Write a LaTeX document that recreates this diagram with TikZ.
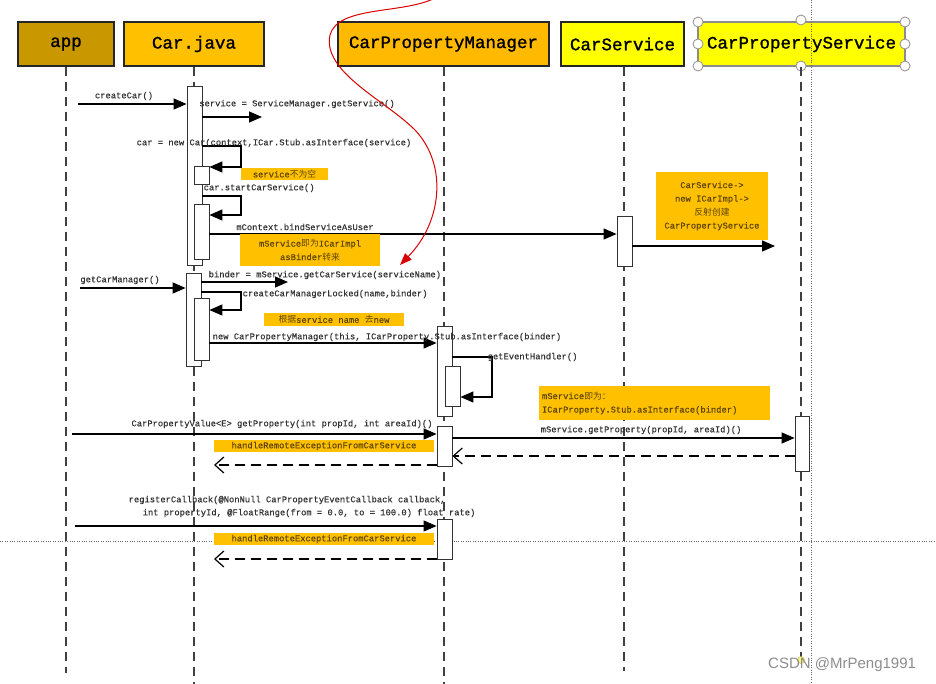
\documentclass[tikz,border=0pt]{standalone}
\usepackage{fontspec}
\usepackage{tikz}
\usetikzlibrary{arrows.meta}
\newfontfamily\monofont[FakeBold=0.4]{Liberation Mono}
\newfontfamily\headfont[FakeBold=1.2]{Liberation Mono}
\newfontfamily\cjk{Noto Sans CJK SC}
\newfontfamily\wmfont{Liberation Sans}
\newcommand\zh[1]{{\cjk #1}}
\definecolor{appgold}{RGB}{201,151,0}
\definecolor{orangebox}{RGB}{255,192,0}
\definecolor{cpmorange}{RGB}{255,186,0}
\definecolor{yellowbox}{RGB}{255,255,0}
\definecolor{notetext}{RGB}{95,70,0}

\begin{document}
\begin{tikzpicture}[x=1pt, y=-1pt]
	\tikzstyle{head}=[draw=black!85, line width=1.1pt, minimum height=44pt, inner sep=0, font=\headfont\fontsize{17.5}{20}\selectfont]
	\tikzstyle{bar}=[draw=black!80, thick, fill=white, minimum width=15pt, inner sep=0, anchor=north]
	\tikzstyle{life}=[line width=1.5pt, black!75, dash pattern=on 9pt off 6pt]
	\tikzstyle{connect}=[line width=1.2pt, -{Triangle[length=13pt,width=11pt]}]
	\tikzstyle{back}=[line width=1.2pt, dash pattern=on 10pt off 6pt, -{Straight Barb[length=9pt,width=16pt]}]
	\tikzstyle{txt}=[inner sep=0.5pt, text=black!80, font=\monofont\fontsize{8.8}{13}\selectfont]
	\tikzstyle{note}=[fill=orangebox, inner sep=1pt, text=notetext, align=center, font=\monofont\fontsize{8.8}{13.5}\selectfont]

	\useasboundingbox (0,0) rectangle (936,684);

	\node[head, fill=appgold, minimum width=96pt] (app) at (66,44) {app};
	\node[head, fill=orangebox, minimum width=140pt] (carjava) at (194,44) {Car.java};
	\node[head, fill=cpmorange, minimum width=211pt] (cpm) at (443.5,44) {CarPropertyManager};
	\node[head, fill=yellowbox, minimum width=123pt] (carsvc) at (622.5,44) {CarService};
	\node[head, fill=yellowbox, draw=black!45, minimum width=207pt] (cpsvc) at (801.5,44) {CarPropertyService};

	% selection handles
	\foreach \hx/\hy in {698/22, 801/20, 905/22, 698/44, 905/44, 698/66, 801/66, 905/66}
		\draw[black!40, fill=white, line width=0.9pt] (\hx,\hy) circle (5);

	\draw[life] (app.south) -- ++(0,606);
	\draw[life] (carjava.south) -- ++(0,620);
	\draw[life] (cpm.south -| 444,0) -- ++(0,620);
	\draw[life] (carsvc.south -| 624,0) -- ++(0,604);
	\draw[life] (cpsvc.south -| 801,0) -- ++(0,594);
	\node[circle, draw=olive!60, fill=yellow!50, inner sep=0, minimum size=7pt] (cpsvc-end) at (801,660) {};

	\draw[dotted, black!60, thin] (811,0) -- (811,684);
	\draw[dotted, black!60, thin] (0,541) -- (936,541);

	% activations
	\node[bar, minimum height=179pt] (car1) at (194.5,86) {};
	\node[bar, minimum height=18pt] (car2) at (201.5,166) {};
	\node[bar, minimum height=55pt] (car3) at (201.5,204) {};
	\node[bar, minimum height=50pt] (cs1) at (624.5,216) {};
	\node[bar, minimum height=93pt] (car4) at (193.5,273) {};
	\node[bar, minimum height=62pt] (car5) at (201.5,298) {};
	\node[bar, minimum height=90pt] (cpm1) at (444.5,326) {};
	\node[bar, minimum height=40pt] (cpm2) at (452.5,366) {};
	\node[bar, minimum height=40pt] (cpm3) at (444.5,426) {};
	\node[bar, minimum width=14pt, minimum height=55pt] (cps1) at (802,416) {};
	\node[bar, minimum height=40pt] (cpm4) at (444.5,519) {};

	% createCar
	\coordinate (s1) at (78,104);
	\draw[connect] (s1) -- (car1.west |- s1);
	\node[txt] (m1) at (124,96) {createCar()};
	\coordinate (e2) at (262,117);
	\draw[connect] (car1.east |- e2) -- (e2);
	\node[txt] (m2) at (297,104) {service = ServiceManager.getService()};
	\draw[connect] (car1.east |- 0,146) -| (241,167) -- (car2.east |- 0,167);
	\node[txt] (m3) at (274,143) {car = new Car(context,ICar.Stub.asInterface(service)};
	\node[note, minimum width=87pt, minimum height=12pt] (n1) at (284.5,174) {service\zh{不为空}};
	\draw[connect] (car1.east |- 0,196) -| (241,215) -- (car3.east |- 0,215);
	\node[txt, anchor=west] (m4) at (203,188) {car.startCarService()};
	\draw[connect] (car3.east |- 0,234) -- (cs1.west |- 0,234);
	\node[txt] (m5) at (305,227) {mContext.bindServiceAsUser};
	\node[note, minimum width=140pt, minimum height=32pt] (n2) at (310,250) {mService\zh{即为}ICarImpl\\asBinder\zh{转来}};
	\coordinate (e6) at (775,246);
	\draw[connect] (cs1.east |- e6) -- (e6);
	\node[note, minimum width=112pt, minimum height=68pt] (n3) at (712,206) {CarService->\\new ICarImpl->\\\zh{反射创建}\\CarPropertyService};

	% getCarManager
	\coordinate (s7) at (80,288);
	\draw[connect] (s7) -- (car4.west |- s7);
	\node[txt] (m7) at (120,280) {getCarManager()};
	\coordinate (e8) at (288,282);
	\draw[connect] (car4.east |- e8) -- (e8);
	\node[txt, anchor=west] (m8) at (208,275) {binder = mService.getCarService(serviceName)};
	\draw[connect] (car4.east |- 0,292) -| (241,310) -- (car5.east |- 0,310);
	\node[txt, anchor=west] (m9) at (242,294) {createCarManagerLocked(name,binder)};
	\node[note, minimum width=140pt, minimum height=13pt] (n4) at (334,319.5) {\zh{根据}service name \zh{去}new};
	\draw[connect] (car5.east |- 0,343) -- (cpm1.west |- 0,343);
	\node[txt, anchor=west] (m10) at (212,337) {new CarPropertyManager(this, ICarProperty.Stub.asInterface(binder)};
	\draw[connect] (cpm1.east |- 0,357) -| (492,397) -- (cpm2.east |- 0,397);
	\node[txt, anchor=west] (m11) at (487,357) {getEventHandler()};
	\node[note, align=left, text width=225pt, inner xsep=3pt, minimum height=34pt] (n5) at (654.5,403) {mService\zh{即为：}\\ICarProperty.Stub.asInterface(binder)};

	% getProperty
	\coordinate (s12) at (72,434);
	\draw[connect] (s12) -- (cpm3.west |- s12);
	\node[txt] (m12) at (282,424) {CarPropertyValue<E> getProperty(int propId, int areaId)()};
	\node[note, minimum width=220pt, minimum height=12pt] (n6) at (324,446) {handleRemoteExceptionFromCarService};
	\coordinate (e13) at (214,465);
	\draw[back] (cpm3.west |- e13) -- (e13);
	\draw[connect] (cpm3.east |- 0,438) -- (cps1.west |- 0,438);
	\node[txt, anchor=west] (m14) at (540,430) {mService.getProperty(propId, areaId)()};
	\draw[back] (cps1.west |- 0,456) -- (cpm3.east |- 0,456);

	% registerCallback
	\coordinate (s16) at (75,526);
	\draw[connect] (s16) -- (cpm4.west |- s16);
	\node[txt, align=left, anchor=west] (m16) at (128,506.5) {registerCallback(@NonNull CarPropertyEventCallback callback,\\\hspace*{14pt}int propertyId, @FloatRange(from = 0.0, to = 100.0) float rate)};
	\node[note, minimum width=220pt, minimum height=12pt] (n7) at (324,539) {handleRemoteExceptionFromCarService};
	\coordinate (e17) at (214,559);
	\draw[back] (cpm4.west |- e17) -- (e17);

	% red pointer
	\coordinate (redtop) at (433,-1);
	\coordinate (redtip) at (400,265);
	\draw[red!85!black, line width=1pt, -{Triangle[length=12pt,width=9pt]}] (redtop) .. controls (400,14) and (338,6) .. (330,35) .. controls (322,72) and (385,100) .. (415,130) .. controls (448,165) and (442,222) .. (redtip);

	\node[anchor=west, inner sep=0, text=black!45, font=\wmfont\fontsize{15}{18}\selectfont] (wm) at (768,665) {CSDN @MrPeng1991};
\end{tikzpicture}
\end{document}
